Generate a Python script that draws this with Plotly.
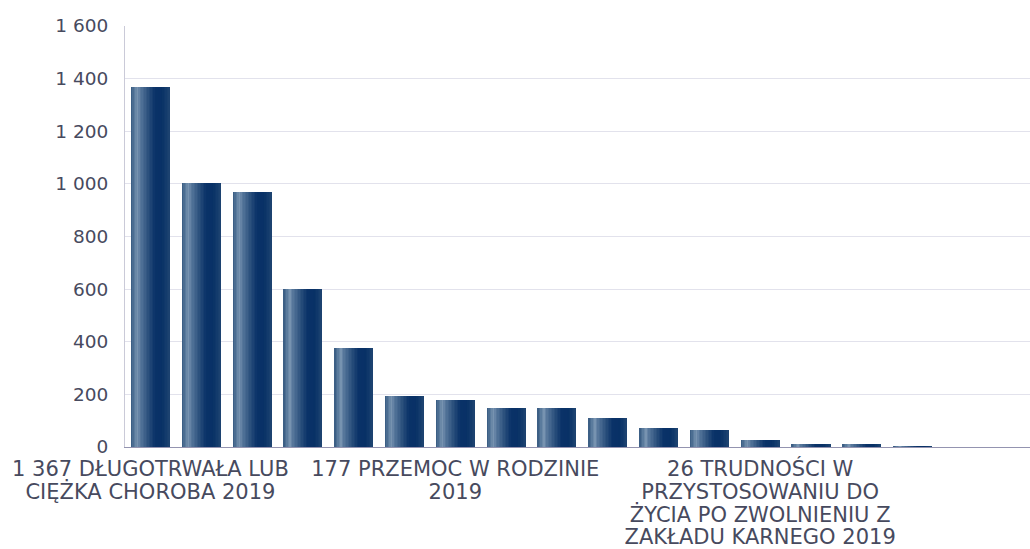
import plotly.graph_objects as go

# ---- data ----
values = [1367, 1005, 968, 602, 375, 193, 177, 147, 147, 109, 71, 63, 26, 10, 10, 2, 0]
categories = list(range(len(values)))
tick_positions = [0, 6, 12]
tick_label_lines = [
    ["1 367 DŁUGOTRWAŁA LUB", "CIĘŻKA CHOROBA 2019"],
    ["177 PRZEMOC W RODZINIE", "2019"],
    ["26 TRUDNOŚCI W", "PRZYSTOSOWANIU DO", "ŻYCIA PO ZWOLNIENIU Z", "ZAKŁADU KARNEGO 2019"],
]
y_ticks = [0, 200, 400, 600, 800, 1000, 1200, 1400, 1600]

# ---- style ----
FONT = "DejaVu Sans"
TEXT = "#474a5e"
BAR_W = 0.768
LABEL_PX = 21
stops = [
    (0.00, (52, 88, 127)),
    (0.10, (92, 124, 158)),
    (0.17, (120, 148, 177)),
    (0.24, (88, 120, 156)),
    (0.45, (42, 79, 124)),
    (0.62, (10, 50, 104)),
    (0.80, (8, 49, 102)),
    (1.00, (30, 68, 113)),
]


def grad(t):
    for (a, ca), (b, cb) in zip(stops[:-1], stops[1:]):
        if a <= t <= b:
            f = (t - a) / (b - a) if b > a else 0
            c = [round(ca[i] + (cb[i] - ca[i]) * f) for i in range(3)]
            return f"rgb({c[0]},{c[1]},{c[2]})"
    c = stops[-1][1]
    return f"rgb({c[0]},{c[1]},{c[2]})"


tick_text = [
    "<br>".join(f'<span style="font-size:{LABEL_PX}px">{ln}</span>' for ln in lines)
    for lines in tick_label_lines
]

fig = go.Figure()
N = 26
sw = BAR_W / N
for k in range(N):
    t = (k + 0.5) / N
    fig.add_trace(go.Bar(
        x=categories, y=values,
        width=sw * (1.6 if k < N - 1 else 1.0),
        offset=-BAR_W / 2 + k * sw,
        marker=dict(color=grad(t), line=dict(width=0)),
        showlegend=False, hoverinfo="skip" if k else "x+y",
    ))

fig.update_layout(
    width=1030, height=549,
    margin=dict(l=125, r=0, t=26, b=102),
    paper_bgcolor="white", plot_bgcolor="white",
    barmode="overlay",
    separators=", ",
    font=dict(family=FONT, color=TEXT, size=18),
    bargap=0,
)
fig.update_xaxes(
    range=[-0.5, 17.31],
    tickmode="array", tickvals=tick_positions, ticktext=tick_text,
    tickfont=dict(size=17.5, color=TEXT, family=FONT),
    showgrid=False, zeroline=False,
    showline=True, linecolor="#9494b0", linewidth=1,
    ticks="", ticklabelstandoff=7,
)
fig.update_yaxes(
    range=[0, 1600], tickvals=y_ticks, tickformat=",d",
    tickfont=dict(size=18.5, color=TEXT, family=FONT),
    showgrid=True, gridcolor="#e2e2ec", gridwidth=1,
    zeroline=False,
    showline=True, linecolor="#cacad8", linewidth=1,
    ticks="", ticklabelstandoff=12,
)

fig.write_html("out.html", config={"displayModeBar": False},
               post_script="document.body.style.margin='0';")
